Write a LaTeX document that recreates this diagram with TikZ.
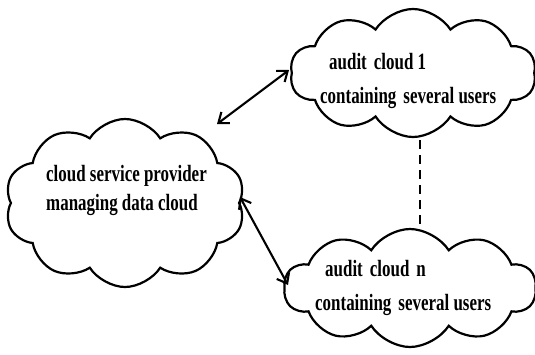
\documentclass[tikz,border=0pt]{standalone}
\usepackage{fontspec}
\setmainfont{Liberation Serif}
\usetikzlibrary{shapes.symbols,arrows.meta}
\newcommand{\tallbf}[1]{\scalebox{1}[1.38]{\bfseries\fontsize{17}{20}\selectfont #1}}
\begin{document}
\begin{tikzpicture}[x=1bp,y=-1bp,
  cloudbox/.style={draw=black, line width=2.2bp, shape=cloud, cloud puffs=10, cloud puff arc=115, aspect=1.5, inner sep=0pt},
  lbl/.style={anchor=base west, inner sep=0pt},
  link/.style={line width=2.1bp, {Straight Barb[length=9bp,width=14bp]}-{Straight Barb[length=9bp,width=14bp]}}
]
\useasboundingbox (0,0) rectangle (535,354);
\node[cloudbox, minimum width=240bp, minimum height=168bp] (csp) at (125,203) {};
\node[cloudbox, minimum width=246bp, minimum height=128bp] (ac1) at (413,73) {};
\node[cloudbox, minimum width=252bp, minimum height=118bp] (acn) at (410,288) {};
\node[lbl] (t1) at (46,181) {\tallbf{cloud service provider}};
\node[lbl] (t2) at (46,210) {\tallbf{managing data cloud}};
\node[lbl] (t3) at (329,69) {\tallbf{audit\, cloud 1}};
\node[lbl] (t4) at (320,103) {\tallbf{containing\, several users}};
\node[lbl] (t5) at (325,276) {\tallbf{audit\, cloud\, n}};
\node[lbl] (t6) at (315,310) {\tallbf{containing\, several users}};
\coordinate (a1) at (217,124);
\coordinate (b1) at (289,70);
\coordinate (a2) at (240,197);
\coordinate (b2) at (288,285);
\draw[link] (a1) -- (b1);
\draw[link] (a2) -- (b2);
\coordinate (d1) at (420,140);
\coordinate (d2) at (420,228);
\draw[line width=2bp, dash pattern=on 9bp off 6bp] (d1) -- (d2);
\end{tikzpicture}
\end{document}
